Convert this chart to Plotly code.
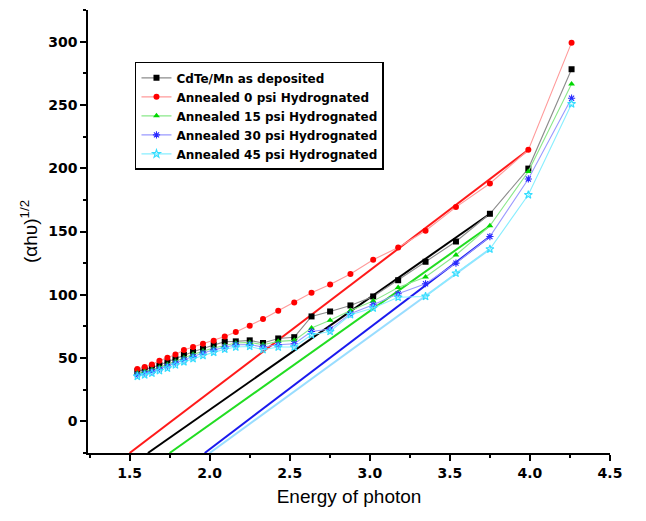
import plotly.graph_objects as go

# photon energy (eV)
energy = [1.548, 1.594, 1.639, 1.686, 1.736, 1.786, 1.839, 1.896, 1.958, 2.025,
          2.094, 2.163, 2.25, 2.333, 2.428, 2.528, 2.636, 2.752, 2.879, 3.021,
          3.177, 3.348, 3.538, 3.75, 3.99, 4.26]

as_deposited = [39.5, 40.8, 42.5, 44.5, 47, 49.5, 52.5, 55, 57.5, 60.5,
                63, 63.2, 64, 61.9, 65.5, 66.5, 82.9, 86.8, 91.6, 98.7,
                111.5, 126.1, 142.1, 164, 199.7, 278.2]
psi_0 = [41.4, 42.9, 45, 47.9, 50.3, 52.9, 56.4, 58.7, 61.3, 63.7,
         67.1, 70.6, 75.6, 80.8, 87.4, 94, 101.6, 108.2, 116.4, 127.7,
         137.4, 150.6, 169.3, 187.9, 214.5, 299.2]
psi_15 = [38.2, 39.3, 40.8, 42.8, 45, 47.5, 50.3, 53, 55.5, 58,
          60, 61.9, 62.4, 60.5, 63.2, 64, 73.7, 79.8, 87.6, 95,
          105.7, 114, 131.4, 154.5, 197.4, 266.6]
psi_30 = [36.8, 38, 39.5, 41.3, 43.5, 46, 48.7, 51.3, 54, 56.5,
          58.5, 60.5, 60.7, 58.7, 60.5, 61.3, 71, 72.9, 85, 92.1,
          100.8, 108.7, 125, 146, 191.5, 255.3]
psi_45 = [35.5, 36.7, 38, 40, 42, 44.5, 47, 49.5, 52, 54.5,
          57, 58.7, 59.2, 56.6, 58.7, 58.7, 68.4, 71, 84.2, 89.5,
          98, 98.7, 117, 136.1, 179, 250.8]

# straight-line (Tauc) fits: start energy at the bottom of the axis, end point
fit_x = {"dep": [1.614, 3.75], "0": [1.5, 3.99], "15": [1.75, 3.75],
         "30": [1.969, 3.75], "45": [2.0, 3.75]}
fit_y = {"dep": [-25, 164], "0": [-25, 214.5], "15": [-25, 154.5],
         "30": [-25, 146], "45": [-25, 136.1]}

series = [
    ("CdTe/Mn as deposited", as_deposited, "dep", "square", "#000000", "#8c8c8c", "#000000"),
    ("Annealed 0 psi Hydrognated", psi_0, "0", "circle", "#ff0000", "#ff9a9a", "#ff1a1a"),
    ("Annealed 15 psi Hydrognated", psi_15, "15", "triangle-up", "#00d800", "#8ae88a", "#22dd22"),
    ("Annealed 30 psi Hydrognated", psi_30, "30", "asterisk-open", "#2a2aff", "#9a9aff", "#1a1aee"),
    ("Annealed 45 psi Hydrognated", psi_45, "45", "star-open", "#33ddff", "#88eeff", "#99ddff"),
]

fig = go.Figure()

for name, vals, key, sym, mcol, lcol, fcol in series:
    fig.add_trace(go.Scatter(x=fit_x[key], y=fit_y[key], mode="lines",
                             line=dict(color=fcol, width=2), showlegend=False,
                             hoverinfo="skip"))

for name, vals, key, sym, mcol, lcol, fcol in series:
    fig.add_trace(go.Scatter(
        x=energy, y=vals, mode="lines+markers", name=name,
        line=dict(color=lcol, width=1.1),
        marker=dict(symbol=sym, size=6, color=mcol,
                    line=dict(color=mcol, width=1.1 if "open" in sym else 0)),
    ))

tick_font = dict(family="DejaVu Sans", size=14, color="black", weight="bold")

# page body has an 8px margin, so the figure sits 8px right/down in the window
fig.update_layout(
    width=646, height=521,
    margin=dict(l=80, r=44, t=2, b=76),
    plot_bgcolor="white", paper_bgcolor="white",
    font=dict(family="Liberation Sans, Arial", color="black"),
    legend=dict(x=0.09, y=0.883, xanchor="left", yanchor="top",
                bordercolor="black", borderwidth=1.5, bgcolor="white",
                font=dict(size=12, family="DejaVu Sans", weight="bold"),
                tracegroupgap=0, itemwidth=30),
)

fig.update_xaxes(
    range=[1.24, 4.5], dtick=0.5, tick0=1.5, tickformat=".1f", automargin=False,
    showgrid=False, zeroline=False, showline=True, linecolor="black", linewidth=1.5,
    ticks="outside", ticklen=6, tickwidth=1.5, tickcolor="black",
    tickfont=tick_font,
    minor=dict(dtick=0.25, tick0=1.5, ticks="outside", ticklen=3, tickwidth=1.5, tickcolor="black"),
    title=dict(text="Energy of photon", font=dict(size=19, family="Liberation Sans, Arial"), standoff=10),
)
fig.update_yaxes(
    range=[-25, 325], dtick=50, tick0=0, automargin=False,
    showgrid=False, zeroline=False, showline=True, linecolor="black", linewidth=1.5,
    ticks="outside", ticklen=6, tickwidth=1.5, tickcolor="black",
    tickfont=tick_font,
    minor=dict(dtick=25, tick0=0, ticks="outside", ticklen=3, tickwidth=1.5, tickcolor="black"),
    title=dict(text="(αhυ)<sup>1/2</sup>", font=dict(size=19, family="Liberation Sans, Arial"), standoff=6),
)

fig.write_html("out.html")
